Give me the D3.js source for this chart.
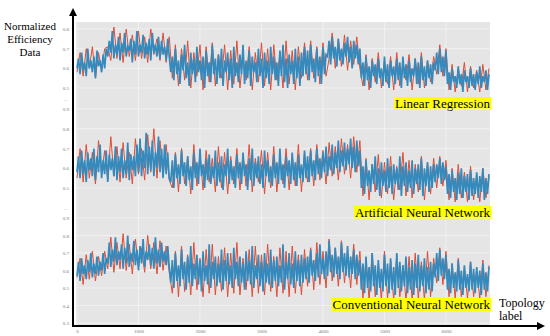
<!DOCTYPE html>
<html>
<head>
<meta charset="utf-8">
<script src="https://cdn.jsdelivr.net/npm/d3@7"></script>
<style>
  html, body { margin: 0; padding: 0; background: #fff; }
  svg { display: block; }
  .serif { font-family: "Liberation Serif", Tinos, "DejaVu Serif", serif; }
</style>
</head>
<body>
<svg id="chart"></svg>
<script>
// blue series: one sample every 25 topology labels, red: every 50 (0 .. 6700)
const blueStep = 25;
const redStep = 50;

const lrBlue = [0.60,0.65,0.57,0.68,0.59,0.63,0.56,0.70,0.60,0.64,0.58,0.66,0.55,0.69,0.61,0.64,0.58,0.67,0.60,0.70,
  0.66,0.74,0.68,0.79,0.65,0.72,0.67,0.76,0.64,0.73,0.68,0.78,0.66,0.71,0.69,0.75,0.63,0.74,0.67,0.79,0.66,0.72,0.68,0.77,0.65,0.73,0.67,0.75,0.64,0.78,0.68,0.72,0.66,0.76,0.65,0.74,0.67,0.71,0.64,0.75,0.66,
  0.58,0.66,0.54,0.70,0.57,0.64,0.52,0.67,0.59,0.72,0.55,0.63,0.51,0.68,0.57,0.65,0.53,0.71,0.58,0.64,
  0.54,0.66,0.50,0.69,0.56,0.63,0.53,0.72,0.57,0.65,0.52,0.67,0.55,0.70,0.51,0.64,0.58,0.68,0.54,0.65,
  0.50,0.71,0.56,0.63,0.53,0.67,0.57,0.72,0.52,0.64,0.55,0.69,0.51,0.66,0.58,0.63,0.53,0.70,0.56,0.65,
  0.50,0.68,0.55,0.64,0.52,0.71,0.57,0.66,0.54,0.63,0.51,0.69,0.56,0.72,0.53,0.65,0.50,0.67,0.57,0.64,
  0.52,0.70,0.55,0.66,0.51,0.68,0.56,0.71,
  0.57,0.69,0.54,0.72,0.58,0.65,0.53,0.70,0.56,0.66,0.52,0.71,0.57,0.67,
  0.66,0.74,0.62,0.76,0.65,0.71,0.61,0.75,0.64,0.70,0.62,0.73,0.66,0.76,0.63,0.71,0.60,0.74,0.65,0.72,0.62,0.70,
  0.55,0.63,0.51,0.66,0.54,0.61,0.50,0.64,0.56,0.62,0.52,0.65,0.55,0.60,0.51,0.66,0.53,0.62,0.50,0.64,
  0.56,0.61,0.52,0.65,0.54,0.63,0.50,0.66,0.55,0.62,0.51,0.64,0.53,0.60,0.56,0.65,0.52,0.63,0.50,0.66,
  0.54,0.61,0.51,0.64,0.55,0.62,0.52,0.63,
  0.59,0.68,0.57,0.70,0.58,0.66,0.56,0.69,
  0.52,0.58,0.49,0.60,0.53,0.56,0.50,0.61,0.52,0.57,0.48,0.59,0.53,0.56,0.50,0.60,0.51,0.57,0.49,0.58,
  0.52,0.61,0.50,0.56,0.53,0.59,0.49,0.57];
const lrRed = [0.58,0.68,0.56,0.70,0.60,0.71,0.55,0.68,0.59,0.70,
  0.71,0.64,0.81,0.65,0.78,0.63,0.80,0.66,0.77,0.64,0.79,0.65,0.76,0.63,0.80,0.67,0.75,0.64,0.78,0.63,0.76,
  0.55,0.72,0.51,0.70,0.54,0.74,0.50,0.68,0.56,0.72,0.49,0.71,0.53,0.73,0.51,0.67,0.55,0.72,0.49,0.69,0.52,0.74,0.50,0.66,0.54,0.71,0.49,0.68,0.53,0.73,0.51,0.70,0.49,0.72,0.54,0.68,0.50,0.74,0.52,0.69,0.49,0.71,0.55,0.73,
  0.54,0.74,0.55,0.71,0.52,0.73,0.56,
  0.65,0.78,0.60,0.75,0.61,0.77,0.59,0.74,0.62,0.76,0.60,
  0.51,0.67,0.49,0.65,0.53,0.68,0.50,0.64,0.52,0.66,0.49,0.68,0.51,0.63,0.54,0.67,0.49,0.65,0.52,0.68,0.50,0.64,0.53,0.66,
  0.57,0.72,0.56,0.70,
  0.49,0.62,0.48,0.60,0.51,0.63,0.48,0.61,0.50,0.59,0.48,0.62,0.49,0.60];

const annBlue = [0.58,0.66,0.55,0.69,0.57,0.64,0.53,0.68,0.59,0.65,0.56,0.70,0.54,0.66,0.58,0.72,0.55,0.64,0.57,0.69,
  0.53,0.67,0.59,0.65,0.56,0.71,0.54,0.66,0.58,0.70,0.55,0.64,0.57,0.73,0.54,0.67,0.59,0.66,0.56,0.72,
  0.58,0.75,0.56,0.69,0.60,0.78,0.57,0.71,0.59,0.74,0.56,0.68,0.60,0.76,0.58,0.70,0.55,0.72,0.57,0.68,0.55,
  0.53,0.64,0.50,0.67,0.55,0.62,0.52,0.69,0.56,0.63,0.51,0.66,0.54,0.61,0.49,0.68,0.55,0.63,0.52,0.70,
  0.56,0.62,0.50,0.65,0.54,0.67,0.52,0.61,0.55,0.69,0.51,0.63,0.53,0.66,0.49,0.62,0.56,0.70,0.52,0.64,
  0.54,0.61,0.50,0.67,0.55,0.63,0.52,0.68,0.56,0.62,0.49,0.65,0.54,0.70,0.51,0.63,0.55,0.66,0.52,0.62,
  0.50,0.69,0.56,0.64,0.53,0.61,0.51,0.67,0.55,0.63,0.52,0.70,0.54,0.62,0.50,0.66,0.56,0.64,0.52,0.68,
  0.54,0.63,0.51,0.67,0.55,0.62,0.53,0.69,
  0.55,0.66,0.53,0.69,0.56,0.64,0.54,0.70,0.57,0.65,0.55,0.68,0.58,0.71,0.56,0.66,0.59,0.72,0.57,0.68,
  0.60,0.74,0.58,0.69,0.61,0.73,0.59,0.70,0.62,0.75,0.60,0.71,0.58,0.74,0.61,0.69,
  0.50,0.61,0.47,0.64,0.51,0.59,0.48,0.62,0.52,0.66,0.49,0.60,0.46,0.63,0.51,0.59,0.48,0.65,0.50,0.61,
  0.47,0.62,0.52,0.60,0.49,0.66,0.46,0.61,0.51,0.63,0.48,0.59,0.50,0.64,0.47,0.60,0.52,0.62,0.49,0.65,
  0.46,0.60,0.51,0.63,0.48,0.61,0.50,0.62,
  0.53,0.62,0.55,0.65,0.52,0.63,0.54,0.61,
  0.47,0.57,0.45,0.59,0.48,0.55,0.44,0.58,0.47,0.60,0.45,0.56,0.48,0.57,0.44,0.59,0.46,0.55,0.47,0.58,
  0.45,0.56,0.48,0.60,0.44,0.55,0.47,0.57];
const annRed = [0.55,0.70,0.53,0.72,0.55,0.68,0.52,0.74,0.57,0.69,0.54,0.76,0.56,0.71,0.53,0.73,0.55,0.68,0.52,0.75,0.57,0.70,0.54,0.77,0.58,0.80,0.55,0.74,0.56,0.72,0.54,
  0.50,0.68,0.48,0.70,0.52,0.66,0.47,0.72,0.51,0.67,0.49,0.69,0.53,0.65,0.48,0.71,0.50,0.68,0.47,0.66,0.52,0.70,0.49,0.67,0.51,0.72,0.48,0.65,0.53,0.69,0.47,0.68,0.50,0.71,0.48,0.66,0.52,0.70,0.49,0.67,0.51,0.72,0.48,0.68,
  0.53,0.70,0.51,0.72,0.54,0.69,0.52,0.73,0.56,0.71,0.54,0.75,0.57,0.72,0.55,0.76,0.58,0.74,
  0.46,0.65,0.44,0.62,0.48,0.67,0.45,0.63,0.47,0.66,0.44,0.61,0.49,0.68,0.46,0.64,0.45,0.62,0.48,0.66,0.44,0.63,0.47,0.65,
  0.50,0.66,0.51,0.64,
  0.44,0.60,0.43,0.62,0.45,0.58,0.43,0.61,0.44,0.57,0.43,0.60,0.45,0.56];

const cnnBlue = [0.57,0.65,0.54,0.67,0.58,0.63,0.55,0.66,0.59,0.70,0.56,0.64,0.58,0.68,0.57,0.65,0.60,0.70,0.58,0.67,
  0.64,0.76,0.62,0.72,0.65,0.79,0.63,0.71,0.66,0.75,0.61,0.73,0.64,0.80,0.62,0.70,0.65,0.77,0.63,0.72,
  0.60,0.74,0.64,0.78,0.62,0.71,0.66,0.75,0.63,0.73,0.61,0.79,0.64,0.72,0.62,0.76,0.65,0.71,0.63,0.74,0.62,
  0.53,0.66,0.50,0.70,0.54,0.63,0.51,0.72,0.55,0.65,0.49,0.68,0.53,0.74,0.51,0.64,0.55,0.69,0.52,0.66,
  0.48,0.71,0.54,0.63,0.52,0.75,0.50,0.65,0.55,0.68,0.51,0.64,0.53,0.72,0.49,0.66,0.54,0.70,0.52,0.63,
  0.50,0.73,0.55,0.65,0.51,0.68,0.53,0.64,0.49,0.71,0.54,0.66,0.52,0.74,0.50,0.63,0.55,0.69,0.51,0.65,
  0.48,0.70,0.53,0.64,0.52,0.72,0.50,0.66,0.54,0.68,0.51,0.63,0.53,0.75,0.49,0.65,0.55,0.70,0.52,0.64,
  0.50,0.71,0.54,0.66,0.51,0.69,0.53,0.67,
  0.55,0.68,0.53,0.72,0.57,0.66,0.54,0.70,0.56,0.75,0.58,0.67,0.55,0.71,0.57,0.77,0.59,0.69,0.56,0.73,
  0.58,0.68,0.55,0.76,0.59,0.70,0.57,0.74,0.56,0.68,0.58,0.72,0.55,0.69,0.57,0.66,
  0.49,0.64,0.47,0.68,0.50,0.62,0.48,0.70,0.51,0.63,0.46,0.66,0.50,0.61,0.48,0.69,0.51,0.64,0.47,0.67,
  0.49,0.62,0.46,0.70,0.50,0.65,0.48,0.63,0.51,0.68,0.47,0.62,0.49,0.66,0.46,0.64,0.50,0.69,0.48,0.63,
  0.51,0.67,0.47,0.62,0.49,0.65,0.48,0.64,
  0.56,0.70,0.54,0.72,0.57,0.67,0.55,0.69,
  0.49,0.61,0.47,0.64,0.50,0.59,0.48,0.66,0.49,0.60,0.46,0.63,0.50,0.58,0.48,0.65,0.49,0.61,0.47,0.62,
  0.50,0.60,0.46,0.64,0.49,0.59,0.48,0.62];
const cnnRed = [0.56,0.67,0.52,0.69,0.55,0.71,0.54,0.68,0.57,0.71,
  0.61,0.79,0.59,0.76,0.61,0.81,0.60,0.75,0.58,0.78,0.62,0.73,0.59,0.80,0.61,0.76,0.58,0.77,0.60,0.74,0.59,
  0.47,0.71,0.45,0.74,0.48,0.69,0.46,0.76,0.49,0.67,0.45,0.72,0.47,0.75,0.46,0.68,0.48,0.73,0.45,0.70,0.47,0.76,0.46,0.67,0.49,0.72,0.45,0.74,0.47,0.69,0.46,0.75,0.48,0.68,0.45,0.73,0.47,0.71,0.45,0.74,0.47,0.69,0.46,0.72,
  0.51,0.73,0.49,0.76,0.52,0.71,0.50,0.78,0.54,0.73,0.51,0.77,0.53,0.72,0.50,0.75,0.52,0.71,
  0.44,0.67,0.43,0.70,0.45,0.64,0.43,0.71,0.44,0.66,0.43,0.69,0.45,0.63,0.43,0.68,0.43,0.70,0.44,0.65,0.43,0.71,0.45,0.67,
  0.53,0.73,0.52,0.71,
  0.45,0.64,0.44,0.67,0.45,0.62,0.44,0.65,0.45,0.61,0.44,0.66,0.45,0.63];

const panelNames = ["Linear Regression", "Artificial Neural Network", "Conventional Neural Network"];
const panelTicks = [
  [0.5, 0.6, 0.7, 0.8],
  [0.5, 0.6, 0.7, 0.8, 0.9],
  [0.3, 0.4, 0.5, 0.6, 0.7, 0.8, 0.9],
];
const xTicks = [0, 1000, 2000, 3000, 4000, 5000, 6000];
const yTitle = ["Normalized", "Efficiency", "Data"];
const xTitle = ["Topology", "label"];

const dims = {
  width: 550,
  height: 336,
  plot: { left: 76, right: 490, top: 22, bottom: 325 },
  axisX: 73,
  axisY: 326,
  blueWidth: 1.7,
  redWidth: 1,
};

// per panel: y domain -> y range, separator row and yellow label box
const panels = [
  { blue: lrBlue, red: lrRed, dom: [0.5, 0.8], rng: [88, 29], sep: 99, label: { y0: 97, y1: 110 } },
  { blue: annBlue, red: annRed, dom: [0.5, 0.9], rng: [188, 109], sep: 208, label: { y0: 206, y1: 219 } },
  { blue: cnnBlue, red: cnnRed, dom: [0.3, 0.9], rng: [323, 218], sep: null, label: { y0: 298, y1: 311 } },
];

const svg = d3.select("#chart")
  .attr("width", dims.width)
  .attr("height", dims.height)
  .attr("viewBox", [0, 0, dims.width, dims.height]);

const x = d3.scaleLinear().domain([0, 6700]).range([77, 489]);

// gray background
svg.append("rect")
  .attr("x", dims.plot.left)
  .attr("y", dims.plot.top)
  .attr("width", dims.plot.right - dims.plot.left)
  .attr("height", dims.plot.bottom - dims.plot.top)
  .attr("fill", "#e5e5e5");

// vertical grid
svg.append("g")
  .selectAll("line")
  .data(xTicks)
  .join("line")
  .attr("x1", (d) => x(d))
  .attr("x2", (d) => x(d))
  .attr("y1", dims.plot.top)
  .attr("y2", dims.plot.bottom)
  .attr("stroke", "#f4f4f4")
  .attr("stroke-width", 0.8);

panels.forEach((p, i) => {
  const y = d3.scaleLinear().domain(p.dom).range(p.rng);

  // horizontal grid
  svg.append("g")
    .selectAll("line")
    .data(panelTicks[i])
    .join("line")
    .attr("x1", dims.plot.left)
    .attr("x2", dims.plot.right)
    .attr("y1", (d) => y(d))
    .attr("y2", (d) => y(d))
    .attr("stroke", "#f4f4f4")
    .attr("stroke-width", 0.8);

  const lineFor = (stepSize) => d3.line()
    .x((d, k) => x(k * stepSize))
    .y((d) => y(d));

  svg.append("path")
    .datum(p.red)
    .attr("d", lineFor(redStep))
    .attr("fill", "none")
    .attr("stroke", "#E24A33")
    .attr("stroke-width", dims.redWidth);

  svg.append("path")
    .datum(p.blue)
    .attr("d", lineFor(blueStep))
    .attr("fill", "none")
    .attr("stroke", "#348ABD")
    .attr("stroke-width", dims.blueWidth);

  // y tick labels
  svg.append("g")
    .attr("transform", `translate(69,0)`)
    .call(d3.axisLeft(y).tickValues(panelTicks[i]).tickSize(0).tickPadding(0).tickFormat(d3.format(".1f")))
    .call((g) => {
      g.select("path.domain").remove();
      g.selectAll(".tick text")
        .attr("class", "serif")
        .attr("font-size", 5)
        .attr("fill", "#777");
    });

  if (p.sep !== null) {
    svg.append("text")
      .attr("x", 66)
      .attr("y", p.sep + 1.5)
      .attr("text-anchor", "middle")
      .attr("font-size", 5)
      .attr("fill", "#999")
      .text("…");
  }

  // yellow label
  const lbl = svg.append("g");
  const t = lbl.append("text")
    .attr("class", "serif")
    .attr("x", 490)
    .attr("y", p.label.y1 - 2.5)
    .attr("text-anchor", "end")
    .attr("font-size", 13)
    .attr("fill", "#000")
    .text(panelNames[i]);
  const bb = t.node().getBBox();
  lbl.insert("rect", "text")
    .attr("x", bb.x - 1)
    .attr("y", p.label.y0)
    .attr("width", bb.width + 2)
    .attr("height", p.label.y1 - p.label.y0)
    .attr("fill", "#ffff00");
});

// x tick labels
svg.append("g")
  .attr("transform", `translate(0,${dims.axisY + 1})`)
  .call(d3.axisBottom(x).tickValues(xTicks).tickSize(0).tickPadding(2).tickFormat(d3.format("d")))
  .call((g) => {
    g.select("path.domain").remove();
    g.selectAll(".tick text")
      .attr("class", "serif")
      .attr("font-size", 5)
      .attr("fill", "#777");
  });

// arrow axes
svg.append("defs")
  .append("marker")
  .attr("id", "arrow")
  .attr("viewBox", "0 0 10 10")
  .attr("refX", 5)
  .attr("refY", 5)
  .attr("markerWidth", 4)
  .attr("markerHeight", 4)
  .attr("markerUnits", "strokeWidth")
  .attr("orient", "auto")
  .append("path")
  .attr("d", "M0,0 L10,5 L0,10 z")
  .attr("fill", "#000");

svg.append("line")
  .attr("x1", dims.axisX)
  .attr("y1", dims.axisY + 1)
  .attr("x2", dims.axisX)
  .attr("y2", 12)
  .attr("stroke", "#000")
  .attr("stroke-width", 2)
  .attr("marker-end", "url(#arrow)");

svg.append("line")
  .attr("x1", dims.axisX - 1)
  .attr("y1", dims.axisY)
  .attr("x2", 541)
  .attr("y2", dims.axisY)
  .attr("stroke", "#000")
  .attr("stroke-width", 2)
  .attr("marker-end", "url(#arrow)");

// axis titles
svg.append("text")
  .attr("class", "serif")
  .attr("font-size", 11)
  .attr("text-anchor", "middle")
  .selectAll("tspan")
  .data(yTitle)
  .join("tspan")
  .attr("x", 30)
  .attr("y", (d, k) => 30 + k * 13)
  .text((d) => d);

svg.append("text")
  .attr("class", "serif")
  .attr("font-size", 12)
  .selectAll("tspan")
  .data(xTitle)
  .join("tspan")
  .attr("x", 499)
  .attr("y", (d, k) => 307 + k * 13)
  .text((d) => d);
</script>
</body>
</html>
